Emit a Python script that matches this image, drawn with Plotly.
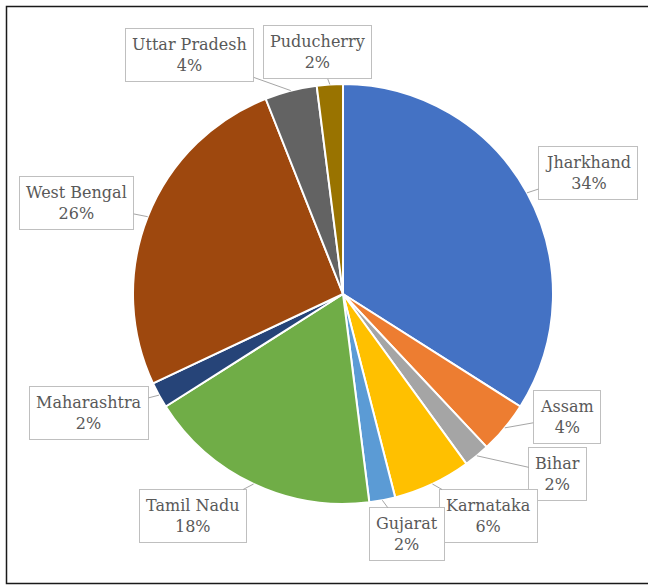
import math
import plotly.graph_objects as go

# ---- data ----
states = ["Jharkhand", "Assam", "Bihar", "Karnataka", "Gujarat",
          "Tamil Nadu", "Maharashtra", "West Bengal", "Uttar Pradesh", "Puducherry"]
shares = [34, 4, 2, 6, 2, 18, 2, 26, 4, 2]

# ---- style ----
colors = ["#4472C4", "#ED7D31", "#A5A5A5", "#FFC000", "#5B9BD5",
          "#70AD47", "#264478", "#9E480E", "#636363", "#997300"]
# label box offset (pixels) from the leader tip on the slice edge
label_offsets = {
    "Jharkhand": (61, -20), "Assam": (62, -11), "Bihar": (81, 18),
    "Karnataka": (56, 32), "Gujarat": (25, 34), "Tamil Nadu": (-61, 32),
    "Maharashtra": (-70, 18), "West Bengal": (-71, -14),
    "Uttar Pradesh": (-101, -36), "Puducherry": (-12, -32),
}

W, H = 648, 585
CX, CY, R = 343, 294, 210  # pie centre / radius in pixels (layout)
FONT = "DejaVu Serif"

fig = go.Figure()
fig.add_trace(go.Pie(
    labels=states, values=shares, sort=False, direction="clockwise", rotation=0,
    marker=dict(colors=colors, line=dict(color="white", width=2)),
    textinfo="none", hoverinfo="label+percent", showlegend=False,
    domain=dict(x=[(CX - R) / W, (CX + R) / W],
                y=[(H - CY - R) / H, (H - CY + R) / H]),
))

total = sum(shares)
cum = 0.0
annotations = []
for name, v in zip(states, shares):
    mid = (cum + v / 2) / total * 2 * math.pi
    cum += v
    tx = CX + R * math.sin(mid)
    ty = CY - R * math.cos(mid)
    ax, ay = label_offsets[name]
    annotations.append(dict(
        x=tx / W, y=1 - ty / H, xref="paper", yref="paper",
        text=f"{name}<br>{round(v / total * 100)}%",
        showarrow=True, ax=ax, ay=ay, arrowhead=0, arrowwidth=1,
        arrowcolor="#A6A6A6", standoff=0,
        bgcolor="white", bordercolor="#BFBFBF", borderwidth=1, borderpad=6,
        font=dict(family=FONT, size=16, color="#595959"),
        align="center",
    ))

fig.update_layout(
    width=W, height=H, margin=dict(l=0, r=0, t=0, b=0),
    paper_bgcolor="white", plot_bgcolor="white",
    font=dict(family=FONT),
    annotations=annotations,
    shapes=[dict(type="rect", xref="paper", yref="paper",
                 x0=6.5 / W, x1=1.02, y0=1 - 583.5 / H, y1=1 - 6.5 / H,
                 line=dict(color="#1a1a1a", width=1.5), fillcolor="rgba(0,0,0,0)")],
)

fig.write_html("out.html")
